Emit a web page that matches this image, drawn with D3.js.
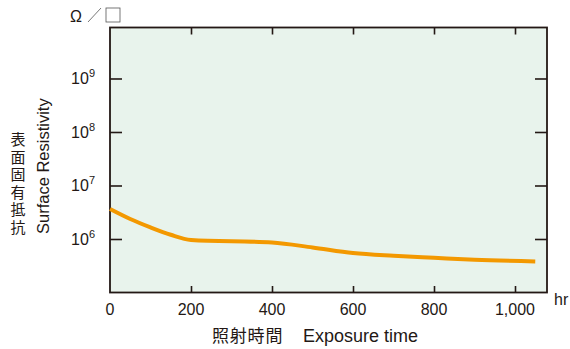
<!DOCTYPE html>
<html>
<head>
<meta charset="utf-8">
<script src="https://cdn.jsdelivr.net/npm/d3@7"></script>
<style>
  html, body { margin: 0; padding: 0; background: #fff; }
  svg { display: block; }
  text { font-family: "Liberation Sans", Arial, sans-serif; fill: #231815; }
  .cjk { font-family: "Noto Sans CJK JP", sans-serif; }
  .vert { writing-mode: vertical-rl; text-orientation: upright; }
</style>
</head>
<body>
<script>
// Exposure time (hours) and surface resistivity (Ω/□)
const hours = [0, 50, 100, 150, 200, 400, 500, 600, 700, 800, 900, 1050];
const resistivity = [3.65e6, 2.37e6, 1.65e6, 1.2e6, 0.96e6, 0.86e6, 0.695e6, 0.546e6, 0.486e6, 0.446e6, 0.41e6, 0.38e6];
const xTicks = [0, 200, 400, 600, 800, 1000];
const xTickLabels = ["0", "200", "400", "600", "800", "1,000"];
const yTicks = [1e6, 1e7, 1e8, 1e9];
const yTickExponents = ["6", "7", "8", "9"];

const W = 570, H = 349;
const plotL = 110, plotR = 547, plotT = 27.5, plotB = 292.5;
const ink = "#231815";

const svg = d3.select("body").append("svg").attr("width", W).attr("height", H);

const x = d3.scaleLinear().domain([0, 1079]).range([plotL, plotR]);
const y = d3.scaleLog().domain([1e5, Math.pow(10, 9.953)]).range([plotB, plotT]);

// plot background
svg.append("rect")
  .attr("x", plotL).attr("y", plotT)
  .attr("width", plotR - plotL).attr("height", plotB - plotT)
  .attr("fill", "#e8f3ec");

// mirrored inward ticks via d3 axes
const tickStyle = g => {
  g.select(".domain").remove();
  g.selectAll("line").attr("stroke", ink).attr("stroke-width", 1.6);
  g.selectAll("text").remove();
};
const innerX = xTicks.filter(d => d > 0);
svg.append("g").attr("transform", `translate(0,${plotB})`)
  .call(d3.axisTop(x).tickValues(innerX).tickSizeInner(6.5).tickSizeOuter(0)).call(tickStyle);
svg.append("g").attr("transform", `translate(0,${plotT})`)
  .call(d3.axisBottom(x).tickValues(innerX).tickSizeInner(7).tickSizeOuter(0)).call(tickStyle);
svg.append("g").attr("transform", `translate(${plotL},0)`)
  .call(d3.axisRight(y).tickValues(yTicks).tickSizeInner(12).tickSizeOuter(0)).call(tickStyle);
svg.append("g").attr("transform", `translate(${plotR},0)`)
  .call(d3.axisLeft(y).tickValues(yTicks).tickSizeInner(12).tickSizeOuter(0)).call(tickStyle);

// frame
svg.append("rect")
  .attr("x", plotL).attr("y", plotT)
  .attr("width", plotR - plotL).attr("height", plotB - plotT)
  .attr("fill", "none").attr("stroke", ink).attr("stroke-width", 1.8);

// curve
const line = d3.line()
  .x((d, i) => x(hours[i]))
  .y(d => y(d))
  .curve(d3.curveMonotoneX);
svg.append("path")
  .attr("d", line(resistivity))
  .attr("fill", "none")
  .attr("stroke", "#f39800")
  .attr("stroke-width", 4);

// x tick labels
svg.selectAll(".xl").data(xTicks).enter().append("text")
  .attr("x", d => x(d)).attr("y", 315)
  .attr("text-anchor", "middle").attr("font-size", 16)
  .text((d, i) => xTickLabels[i]);

svg.append("text").attr("x", 554).attr("y", 304.5).attr("font-size", 16).text("hr");

// y tick labels with superscript exponents
yTicks.forEach((d, i) => {
  const t = svg.append("text")
    .attr("x", 95).attr("y", y(d) + 6)
    .attr("text-anchor", "end").attr("font-size", 16);
  t.append("tspan").text("10");
  t.append("tspan").attr("dy", -7).attr("font-size", 11).text(yTickExponents[i]);
});

// unit
svg.append("text").attr("x", 70).attr("y", 22).attr("font-size", 16).text("Ω");
svg.append("line").attr("x1", 88).attr("y1", 22).attr("x2", 101).attr("y2", 8)
  .attr("stroke", "#555").attr("stroke-width", 0.8);
svg.append("rect").attr("x", 106).attr("y", 8).attr("width", 14).attr("height", 14)
  .attr("fill", "none").attr("stroke", "#555").attr("stroke-width", 0.8);

// y axis title: vertical Japanese plus rotated English
svg.append("text")
  .attr("class", "cjk vert")
  .attr("x", 18).attr("y", 132)
  .attr("font-size", 15).attr("letter-spacing", 2.5)
  .text("表面固有抵抗");
svg.append("text")
  .attr("transform", "translate(49,234) rotate(-90)")
  .attr("font-size", 16.5)
  .text("Surface Resistivity");

// x axis title
svg.append("text").attr("class", "cjk")
  .attr("x", 212).attr("y", 342).attr("font-size", 17).attr("letter-spacing", 0.8)
  .text("照射時間");
svg.append("text")
  .attr("x", 303).attr("y", 342).attr("font-size", 18)
  .text("Exposure time");
</script>
</body>
</html>
